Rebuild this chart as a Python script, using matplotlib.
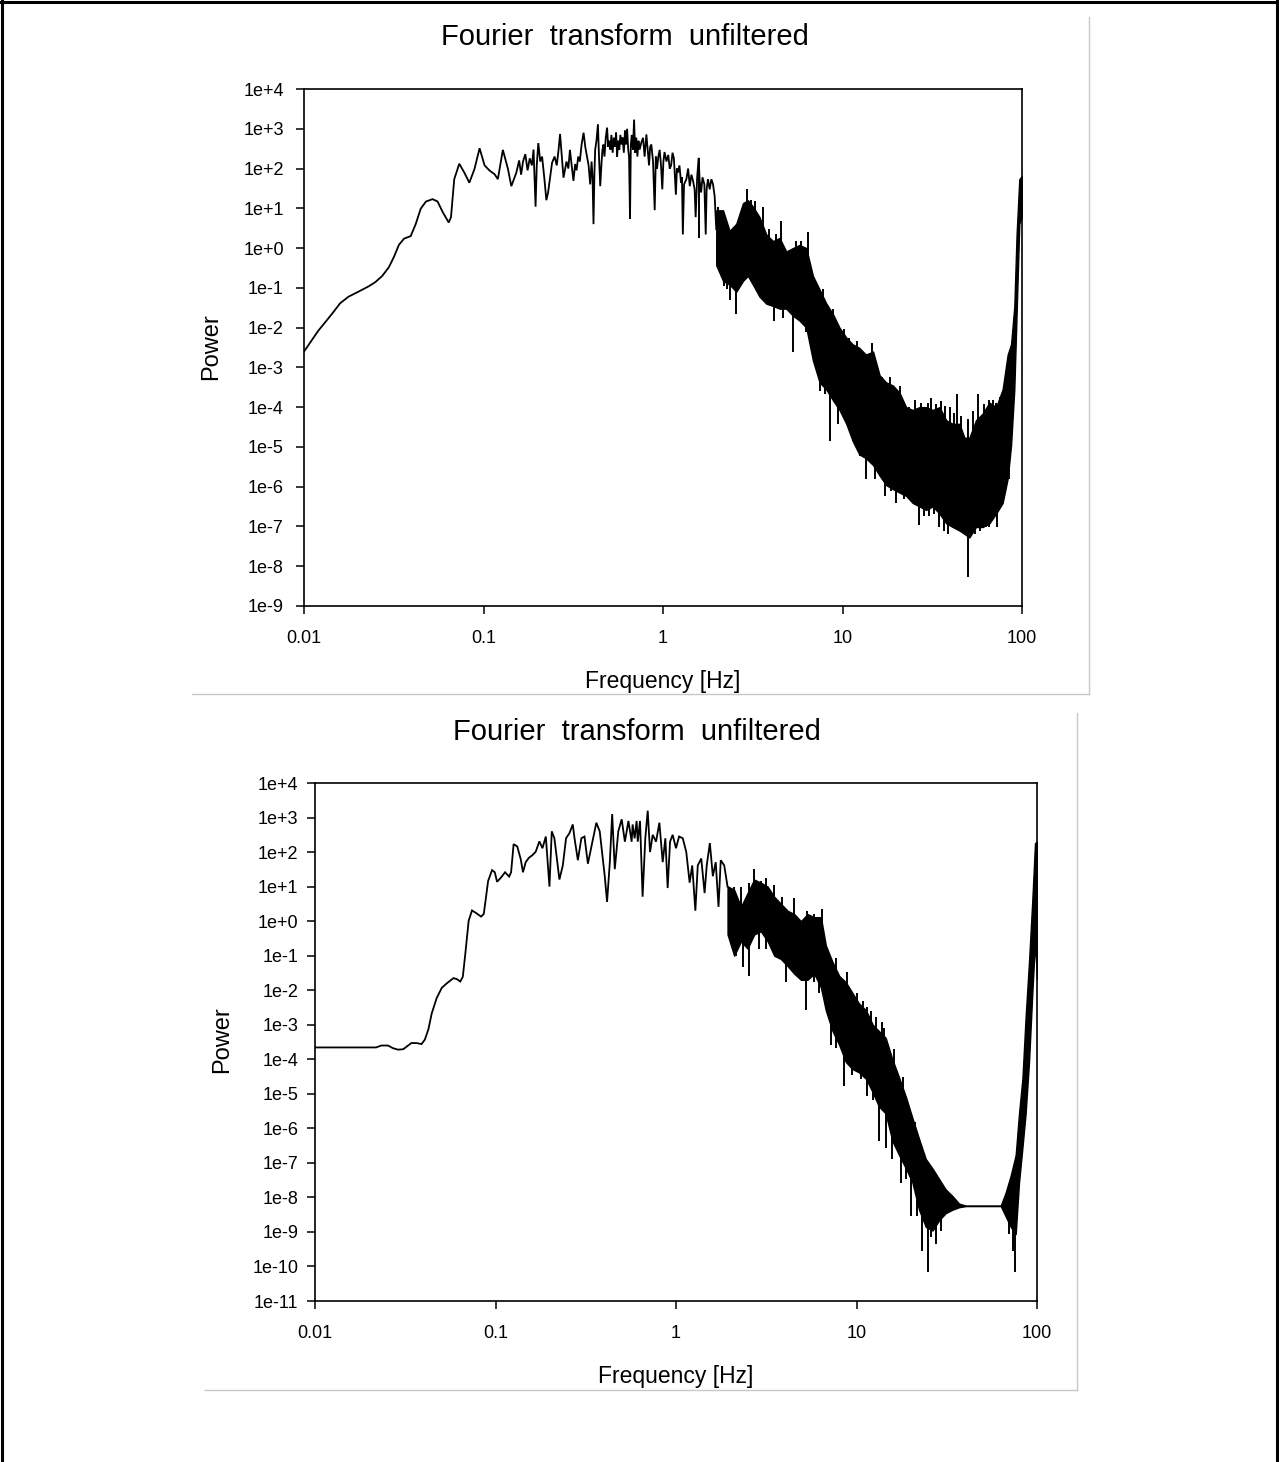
import numpy as np
import matplotlib
matplotlib.use('Agg')
import matplotlib.pyplot as plt
from matplotlib.lines import Line2D
from matplotlib.ticker import FixedLocator, FuncFormatter, NullLocator

plt.rcParams['font.family'] = ['Liberation Sans', 'DejaVu Sans']

# --- данные --- #
x_ticks = [0.01, 0.1, 1, 10, 100]
x_labels = ['0.01', '0.1', '1', '10', '100']
title = 'Fourier  transform  unfiltered'

# верхний график: линия (гладкая часть + "пила" до ~2 Гц)
f1_line = [0.0100, 0.0120, 0.0143, 0.0159, 0.0177, 0.0202, 0.0230, 0.0250, 0.0273, 0.0297,
           0.0317, 0.0338, 0.0361, 0.0393, 0.0419, 0.0447, 0.0478, 0.0520, 0.0555, 0.0592,
           0.0640, 0.0659, 0.0687, 0.0733, 0.0782, 0.0834, 0.0891, 0.0951, 0.1014, 0.1081,
           0.1153, 0.1202, 0.1282, 0.1368, 0.1429, 0.1524,
           0.158, 0.162, 0.166, 0.171, 0.176, 0.181, 0.186, 0.190, 0.195, 0.198,
           0.202, 0.207, 0.212, 0.218, 0.224, 0.229, 0.235, 0.241, 0.249, 0.256,
           0.262, 0.267, 0.273, 0.279, 0.285, 0.290, 0.297, 0.303, 0.310, 0.317,
           0.324, 0.330, 0.337, 0.344, 0.352, 0.361, 0.369, 0.377, 0.385, 0.393,
           0.400, 0.405, 0.410, 0.415, 0.419, 0.426, 0.434, 0.440, 0.447, 0.455,
           0.460, 0.466, 0.472, 0.480, 0.488, 0.495, 0.502, 0.509, 0.516, 0.524,
           0.532, 0.540, 0.548, 0.555, 0.563, 0.571, 0.579, 0.588, 0.596, 0.605,
           0.614, 0.622, 0.631, 0.640, 0.647, 0.655, 0.662, 0.670, 0.680, 0.690,
           0.700, 0.710, 0.720, 0.730, 0.741, 0.757, 0.774, 0.790, 0.808, 0.822,
           0.836, 0.848, 0.861, 0.880, 0.899, 0.912, 0.926, 0.942, 0.958, 0.975,
           0.991, 1.005, 1.02, 1.045, 1.07, 1.09, 1.11, 1.13, 1.15, 1.165,
           1.18, 1.195, 1.21, 1.235, 1.26, 1.275, 1.29, 1.31, 1.35, 1.38,
           1.41, 1.44, 1.47, 1.50, 1.52, 1.55, 1.58, 1.60, 1.63, 1.66,
           1.70, 1.73, 1.75, 1.78, 1.82, 1.86, 1.90, 1.94, 1.98]
p1_line = [2.5e-3, 8.3e-3, 2.2e-2, 4.1e-2, 6.0e-2, 8.1e-2, 0.110, 0.140, 0.20, 0.33,
           0.60, 1.21, 1.73, 2.0, 4.0, 9.8, 14.8, 17.0, 14.8, 8.1,
           4.4, 6.0, 54, 132, 79, 44, 98, 324, 120, 89,
           72, 54, 295, 98, 36, 79,
           160, 70, 150, 230, 90, 180, 120, 300, 11, 120,
           437, 150, 200, 60, 16, 25, 60, 140, 200, 120,
           300, 740, 200, 59, 100, 150, 100, 295, 120, 49,
           130, 90, 200, 150, 400, 795, 350, 200, 120, 40,
           150, 60, 4, 80, 300, 500, 1300, 200, 36, 150,
           300, 400, 200, 600, 1070, 350, 500, 300, 700, 250,
           600, 350, 800, 200, 500, 300, 700, 400, 600, 250,
           900, 400, 1000, 300, 200, 5.4, 400, 700, 300, 1700,
           250, 600, 200, 500, 300, 450, 590, 200, 720, 300,
           120, 350, 400, 150, 9, 200, 98, 200, 295, 120,
           30, 150, 260, 150, 220, 100, 120, 250, 180, 60,
           22, 100, 79, 120, 44, 60, 2.2, 40, 54, 100,
           36, 70, 49, 30, 6, 60, 186, 50, 25, 60,
           40, 2.2, 30, 54, 30, 54, 40, 20, 3]

# верхний график: сплошная полоса шума (верхняя и нижняя огибающие)
f1_band = [1.98, 2.16, 2.35, 2.56, 2.79, 2.97, 3.17, 3.45, 3.76, 4.10,
           4.46, 4.86, 5.29, 5.76, 6.28, 6.84, 7.45, 8.11, 8.84, 9.62,
           10.5, 11.4, 12.4, 13.5, 14.8, 16.1, 17.5, 19.1, 20.8, 22.6,
           24.6, 26.8, 29.2, 31.8, 34.7, 37.8, 41.1, 44.8, 47.8, 50.9,
           55.4, 60.4, 65.8, 71.7, 78.0, 83.2, 86.9, 90.6, 93.3, 96.6, 100]
p1_hi = [8.9, 8.9, 2.7, 4.1, 13.5, 16, 11, 6, 2.2, 1.5,
         1.8, 0.82, 1.0, 1.2, 1.0, 0.20, 0.091, 0.041, 0.022, 0.010,
         5.6e-3, 3.8e-3, 3.1e-3, 2.1e-3, 2.5e-3, 6.3e-4, 4.2e-4, 3.5e-4, 2.3e-4, 1.0e-4,
         8.5e-5, 1.0e-4, 1.0e-4, 8.5e-5, 1.0e-4, 4.7e-5, 3.8e-5, 3.8e-5, 1.7e-5, 1.7e-5,
         4.7e-5, 6.9e-5, 1.3e-4, 1.0e-4, 2.8e-4, 2.1e-3, 3.8e-3, 0.034, 2.2, 54, 66]
p1_lo = [0.37, 0.15, 0.12, 0.08, 0.15, 0.2, 0.12, 0.06, 0.04, 0.035,
         0.03, 0.03, 0.02, 0.015, 0.01, 1.5e-3, 4.2e-4, 2.8e-4, 1.5e-4, 8.5e-5,
         3.8e-5, 1.4e-5, 6.5e-6, 5.2e-6, 3.5e-6, 1.9e-6, 1.1e-6, 8.7e-7, 7.1e-7, 5.9e-7,
         3.9e-7, 3.2e-7, 2.6e-7, 3.2e-7, 2.1e-7, 1.2e-7, 9.7e-8, 7.9e-8, 6.5e-8, 5.3e-8,
         9.7e-8, 9.7e-8, 1.2e-7, 2.1e-7, 3.9e-7, 1.6e-6, 1.1e-5, 2.8e-4, 0.022, 4.1, 6]

# верхний график: отдельные выбросы (частота, кончик)
f1_spike = [1.99, 2.18, 2.27, 2.37, 2.56, 2.70, 2.85, 3.10, 3.34, 3.72,
            3.92, 4.13, 4.69, 5.0, 5.29, 5.88, 6.28, 6.7, 7.45, 8.0,
            8.47, 9.4, 10.5, 11.4, 12.5, 13.5, 15.1, 16.1, 17.3, 18.7,
            19.9, 22.1, 24.1, 26.8, 28.6, 30.4, 32.5, 34.7, 37.0, 38.6,
            43.0, 49.9, 54.4, 58.0, 63.2, 65.8, 73.0, 78.0, 84.6,
            1.58, 2.02, 2.30, 2.95, 3.10, 3.24, 3.60, 3.92, 4.27, 4.55,
            5.52, 5.88, 6.4, 7.1, 7.8, 8.8, 10.2, 10.9, 12.1, 14.6,
            16.7, 18.3, 20.8, 23.6, 27.3, 31.3, 35.4, 39.6, 43.7, 49.9,
            56.6, 65.8, 71.7, 79.2, 25.5, 29.9, 33.2, 37.1, 41.8, 46.0,
            53.0, 61.5, 68.5, 75.0]
p1_spike = [0.37, 0.11, 0.091, 0.050, 0.022, 0.25, 0.30, 0.17, 0.20, 0.13,
            0.050, 0.015, 0.017, 0.074, 2.5e-3, 0.019, 7.6e-3, 3.1e-3, 2.6e-4, 2.1e-4,
            1.4e-5, 3.8e-5, 8.5e-5, 1.4e-5, 5.8e-6, 1.6e-6, 1.6e-6, 2.9e-6, 5.9e-7, 7.9e-7,
            3.9e-7, 4.8e-7, 5.9e-7, 1.1e-7, 1.8e-7, 1.8e-7, 2.1e-7, 9.7e-8, 7.9e-8, 6.5e-8,
            9.7e-8, 5.4e-9, 6.5e-8, 7.9e-8, 9.7e-8, 9.7e-8, 9.7e-8, 3.9e-7, 1.6e-6,
            186, 11, 2.2, 30, 16, 15, 11, 3.0, 2.2, 4.9,
            1.5, 1.5, 2.5, 0.11, 0.091, 0.030, 9.3e-3, 5.6e-3, 4.6e-3, 4.2e-3,
            5.6e-4, 5.6e-4, 3.5e-4, 1.0e-4, 1.3e-4, 1.7e-4, 1.4e-4, 1.0e-4, 2.1e-4, 5.1e-5,
            2.1e-4, 1.5e-4, 1.3e-4, 2.8e-4, 1.5e-4, 1.3e-4, 1.2e-4, 1.1e-4, 7.0e-5, 6.0e-5,
            8.0e-5, 1.2e-4, 1.5e-4, 1.8e-4]

# нижний график: линия
f2_line = [0.0100, 0.0218, 0.0233, 0.0254, 0.0270, 0.0288, 0.0308, 0.0342, 0.0365, 0.0389,
           0.0406, 0.0425, 0.0443, 0.0472, 0.0504, 0.0537, 0.0585, 0.0611, 0.0638, 0.0659,
           0.0679, 0.0710, 0.0741, 0.0783, 0.0832, 0.0861, 0.0879, 0.0910, 0.0957, 0.0991,
           0.102, 0.107, 0.113, 0.119, 0.122, 0.126, 0.132, 0.138, 0.142, 0.147,
           0.153, 0.160, 0.167, 0.175, 0.182, 0.190, 0.199, 0.205, 0.212, 0.226,
           0.236, 0.246, 0.257, 0.268, 0.274, 0.286, 0.299, 0.311, 0.325, 0.340,
           0.362, 0.378, 0.403, 0.415, 0.430, 0.443, 0.458, 0.479, 0.500, 0.521,
           0.545, 0.568, 0.575, 0.590, 0.605, 0.614, 0.632, 0.653, 0.676, 0.697,
           0.718, 0.743, 0.775, 0.809, 0.844, 0.873, 0.899, 0.927, 0.958, 1.0,
           1.04, 1.09, 1.14, 1.19, 1.23, 1.28, 1.32, 1.38, 1.44, 1.48,
           1.54, 1.60, 1.66, 1.72, 1.77, 1.85, 1.93]
p2_line = [2.2e-4, 2.2e-4, 2.5e-4, 2.5e-4, 2.1e-4, 1.9e-4, 1.95e-4, 2.95e-4, 2.95e-4, 2.75e-4,
           3.7e-4, 7.4e-4, 2.1e-3, 5.9e-3, 0.0117, 0.0158, 0.0224, 0.0209, 0.0178, 0.0245,
           0.102, 1.02, 2.04, 1.70, 1.35, 1.62, 3.6, 14.5, 30, 26,
           13.8, 18, 26, 19.5, 26, 170, 145, 62, 26, 51,
           68, 81, 102, 204, 129, 282, 10, 398, 251, 16,
           41, 251, 355, 631, 251, 58, 251, 282, 46, 145,
           708, 398, 20, 3.6, 51, 1260, 32, 398, 891, 200,
           794, 200, 631, 250, 794, 200, 794, 5.1, 251, 1580,
           100, 316, 200, 708, 51, 251, 9.1, 200, 316, 129,
           282, 251, 100, 13, 41, 2.0, 41, 65, 6.5, 41,
           182, 20, 51, 2.6, 58, 41, 10]

# нижний график: полоса шума
f2_band = [1.93, 2.10, 2.29, 2.49, 2.71, 2.95, 3.22, 3.50, 3.81, 4.15,
           4.52, 4.92, 5.35, 5.83, 6.35, 6.76, 7.36, 8.02, 8.73, 9.50,
           10.3, 11.3, 12.3, 13.3, 14.5, 15.8, 17.2, 18.8, 20.4, 22.2,
           24.2, 26.4, 28.7, 31.2, 34.0, 37.0, 40.3, 63.0, 67.1, 71.5,
           76.2, 79.5, 83.0, 86.5, 90.3, 94.2, 97.5, 100]
p2_hi = [10.2, 8.1, 2.6, 6.5, 16, 13, 10, 5.1, 3.2, 2.0,
         1.6, 1.0, 1.6, 1.3, 1.3, 0.20, 0.066, 0.026, 0.017, 8.3e-3,
         4.2e-3, 2.6e-3, 1.0e-3, 6.6e-4, 4.2e-4, 1.0e-4, 3.0e-5, 8.0e-6, 2.0e-6, 5.0e-7,
         1.3e-7, 6.8e-8, 3.4e-8, 1.7e-8, 1.1e-8, 6.6e-9, 5.8e-9, 5.8e-9, 1.4e-8, 4.3e-8,
         1.7e-7, 2.7e-6, 2.7e-5, 1.7e-3, 0.066, 4.1, 182, 200]
p2_lo = [0.41, 0.10, 0.26, 0.16, 0.41, 0.51, 0.26, 0.10, 0.08, 0.05,
         0.03, 0.02, 0.02, 0.03, 0.012, 2.6e-3, 6.6e-4, 2.6e-4, 8.3e-5, 5.2e-5,
         4.2e-5, 2.7e-5, 1.1e-5, 4.3e-6, 2.7e-6, 4.3e-7, 1.7e-7, 6.8e-8, 2.7e-8, 4.4e-9,
         1.4e-9, 1.1e-9, 2.2e-9, 3.5e-9, 4.4e-9, 5.2e-9, 5.6e-9, 5.6e-9, 2.8e-9, 1.4e-9,
         8.7e-10, 2.7e-8, 2.7e-7, 2.7e-6, 8.3e-5, 8.3e-3, 0.26, 0.021]

f2_spike = [1.97, 2.15, 2.34, 2.55, 2.89, 3.15, 3.58, 4.06, 4.52, 4.92,
            5.25, 5.83, 6.2, 7.2, 7.68, 8.54, 9.5, 10.6, 11.5, 12.3,
            13.3, 14.5, 15.8, 17.6, 18.8, 20.0, 21.7, 23.2, 24.8, 25.8,
            27.4, 29.3, 70.0, 73.3, 75.4, 77.5,
            2.10, 2.29, 2.55, 2.71, 2.95, 3.15, 3.50, 3.89, 4.52, 5.35,
            5.83, 6.47, 7.68, 8.85, 10.0, 11.5, 12.8, 14.2, 15.2, 16.8, 19.1,
            9.1, 10.9, 12.0, 13.8, 16.2, 18.0, 21.0]
p2_spike = [0.41, 0.10, 0.047, 0.026, 0.16, 0.16, 0.20, 0.017, 0.033, 0.047,
            2.6e-3, 0.017, 8.3e-3, 2.6e-4, 2.1e-4, 1.7e-5, 3.4e-5, 2.7e-5, 8.5e-6, 6.8e-6,
            4.3e-7, 2.7e-7, 1.3e-7, 2.7e-8, 3.4e-8, 2.8e-9, 2.8e-9, 2.8e-10, 6.9e-11, 6.9e-10,
            4.4e-10, 1.1e-9, 8.7e-10, 2.8e-10, 6.9e-11, 2.8e-9,
            10, 10, 13, 32, 14.5, 18, 11.5, 5.1, 4.6, 2.0,
            1.6, 2.3, 0.083, 0.033, 8.3e-3, 3.3e-3, 1.7e-3, 8.3e-4, 1.3e-4, 3.4e-5, 3.4e-6,
            0.012, 5.0e-3, 2.5e-3, 1.2e-3, 2.0e-4, 3.0e-5, 1.5e-6]


def ylab(v, pos):
    e = int(round(np.log10(v)))
    return '1e+%d' % e if e >= 0 else '1e%d' % e


def draw_panel(ax, fl, pl, fb, hi, lo, fs, ps, ymin, ypad):
    ax.plot(fl, pl, color='black', lw=1.3, solid_joinstyle='miter')
    ax.fill_between(fb, lo, hi, color='black', lw=1.0, edgecolor='black')
    # выбросы рисуем от середины полосы до кончика
    lf = np.log10(fb)
    mid = (np.log10(hi) + np.log10(lo)) / 2
    base = 10 ** np.interp(np.log10(fs), lf, mid)
    ax.vlines(fs, ps, base, color='black', lw=1.4)
    ax.set_xscale('log')
    ax.set_yscale('log')
    ax.set_xlim(0.01, 100)
    ax.set_ylim(ymin, 1e4)
    ax.xaxis.set_major_locator(FixedLocator(x_ticks))
    ax.set_xticklabels(x_labels)
    ax.xaxis.set_minor_locator(NullLocator())
    exps = range(int(np.log10(ymin)), 5)
    ax.yaxis.set_major_locator(FixedLocator([10.0 ** e for e in exps]))
    ax.yaxis.set_major_formatter(FuncFormatter(ylab))
    ax.yaxis.set_minor_locator(NullLocator())
    ax.tick_params(axis='y', direction='out', length=6, width=1.1, pad=ypad, labelsize=13)
    ax.tick_params(axis='x', direction='out', length=6, width=1.1, pad=11, labelsize=13)
    for s in ax.spines.values():
        s.set_linewidth(1.2)


W, H = 1279, 1462
fig = plt.figure(figsize=(W / 100, H / 100), dpi=100)

ax1 = fig.add_axes([304 / W, 1 - 606 / H, (1022 - 304) / W, (606 - 89) / H])
draw_panel(ax1, f1_line, p1_line, f1_band, p1_hi, p1_lo, f1_spike, p1_spike, 1e-9, 8.5)

ax2 = fig.add_axes([315 / W, 1 - 1301 / H, (1037 - 315) / W, (1301 - 783) / H])
draw_panel(ax2, f2_line, p2_line, f2_band, p2_hi, p2_lo, f2_spike, p2_spike, 1e-11, 6)

# подписи
fig.text(625 / W, 1 - 37 / H, title, ha='center', va='center', fontsize=21)
fig.text(637 / W, 1 - 732 / H, title, ha='center', va='center', fontsize=21)
fig.text(663 / W, 1 - 681 / H, 'Frequency [Hz]', ha='center', va='center', fontsize=16.5)
fig.text(676 / W, 1 - 1376 / H, 'Frequency [Hz]', ha='center', va='center', fontsize=16.5)
fig.text(211 / W, 1 - 347 / H, 'Power', ha='center', va='center', rotation=90, fontsize=17)
fig.text(222 / W, 1 - 1040 / H, 'Power', ha='center', va='center', rotation=90, fontsize=17)


def fig_line(x0, y0, x1, y1, color, lw):
    fig.add_artist(Line2D([x0 / W, x1 / W], [1 - y0 / H, 1 - y1 / H],
                          transform=fig.transFigure, color=color, lw=lw))


# серые рамки вставленных картинок
fig_line(1089, 17, 1089, 694, '#c8c8c8', 1.0)
fig_line(192, 694, 1089, 694, '#c8c8c8', 1.0)
fig_line(1077, 713, 1077, 1390, '#c8c8c8', 1.0)
fig_line(205, 1390, 1077, 1390, '#c8c8c8', 1.0)
# чёрная рамка страницы
fig_line(1.5, 0, 1.5, H, 'black', 2.2)
fig_line(0, 1.5, W, 1.5, 'black', 2.2)
fig_line(W - 2, 0, W - 2, H, 'black', 2.2)

fig.savefig('out.png', dpi=100)
